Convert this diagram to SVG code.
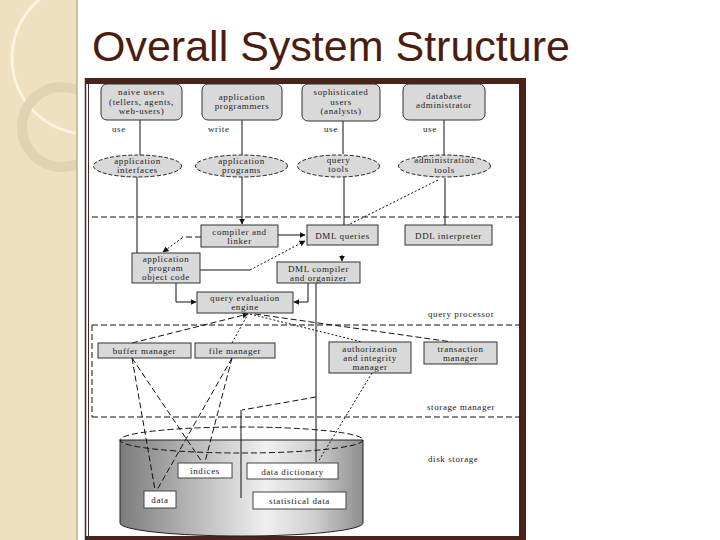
<svg xmlns="http://www.w3.org/2000/svg" width="720" height="540" viewBox="0 0 720 540">
<style>
.lbl{font-family:"Liberation Serif",serif;font-size:9px;letter-spacing:0.6px;fill:#222;text-anchor:middle}
.lbl-l{font-family:"Liberation Serif",serif;font-size:9px;letter-spacing:0.6px;fill:#222}
.box{fill:#d9d9d9;stroke:#333;stroke-width:1}
.wbox{fill:#fff;stroke:#444;stroke-width:1}
.ell{fill:#d9d9d9;stroke:#222;stroke-width:1;stroke-dasharray:4 2}
.c{fill:none;stroke:#111;stroke-width:1}
.d{fill:none;stroke:#111;stroke-width:1;stroke-dasharray:6 3}
.o{fill:none;stroke:#111;stroke-width:1;stroke-dasharray:2 2}
</style>
<defs>
<marker id="ah" viewBox="0 0 10 10" refX="9" refY="5" markerWidth="6" markerHeight="6" orient="auto-start-reverse">
<path d="M0,0 L10,5 L0,10 Z" fill="#111"/>
</marker>
<linearGradient id="cyl" x1="0" y1="0" x2="1" y2="0">
<stop offset="0" stop-color="#7c7c7c"/>
<stop offset="0.3" stop-color="#b8b8b8"/>
<stop offset="0.6" stop-color="#f0f0f0"/>
<stop offset="0.8" stop-color="#cfcfcf"/>
<stop offset="1" stop-color="#8e8e8e"/>
</linearGradient>
<clipPath id="strip"><rect x="0" y="0" width="77" height="540"/></clipPath>
</defs>

<!-- slide background -->
<rect x="0" y="0" width="720" height="540" fill="#fff"/>
<rect x="0" y="0" width="77" height="540" fill="#efe1bf"/>
<g clip-path="url(#strip)">
<circle cx="88" cy="58" r="76" fill="none" stroke="#fbf4e2" stroke-width="3"/>
<circle cx="62" cy="127" r="40" fill="none" stroke="#e0d3b3" stroke-width="10"/>
</g>
<line x1="77" y1="0" x2="77" y2="540" stroke="#bfae8a" stroke-width="1.5"/>
<text x="92" y="61" font-family="Liberation Sans, Arial, sans-serif" font-size="43" fill="#4b1d10">Overall System Structure</text>

<!-- picture frame -->
<rect x="85" y="78" width="441" height="6" fill="#4a2418"/>
<rect x="519" y="78" width="7" height="462" fill="#4a2418"/>
<rect x="85" y="536" width="441" height="4" fill="#4a2418"/>
<line x1="85.5" y1="78" x2="85.5" y2="540" stroke="#4a2418" stroke-width="1.5"/>
<line x1="88.5" y1="84" x2="88.5" y2="540" stroke="#333" stroke-width="1"/>

<!-- disk cylinder -->
<g id="disk">
<path d="M120,440 V523 A121.5,13 0 0 0 363,523 V440 Z" fill="url(#cyl)" stroke="#222" stroke-width="1"/>
<ellipse cx="241.5" cy="440" rx="121.5" ry="13" fill="#fff" class="d"/>
</g>

<!-- region boundaries and labels -->
<g id="regions">
<path class="d" d="M92,217 H520"/>
<path class="d" d="M92,325 H520"/>
<path class="d" d="M92,417 H520"/>
<path class="d" d="M92,325 V417"/>
<text class="lbl-l" x="428" y="317">query processor</text>
<text class="lbl-l" x="427" y="410">storage manager</text>
<text class="lbl-l" x="428" y="462">disk storage</text>
<text class="lbl-l" x="112" y="132">use</text>
<text class="lbl-l" x="208" y="132">write</text>
<text class="lbl-l" x="324" y="132">use</text>
<text class="lbl-l" x="423" y="132">use</text>
</g>

<!-- connectors -->
<g id="connectors">
<path class="c" d="M140,120 V155"/>
<path class="c" d="M242,120 V155"/>
<path class="c" d="M343,121 V154"/>
<path class="c" d="M444,120 V155"/>
<path class="c" d="M137,177 V253"/>
<path class="c" d="M242,177 V224" marker-end="url(#ah)"/>
<path class="c" d="M344,177 V225"/>
<path class="c" d="M445,178 V225"/>
<path class="o" d="M438,180 L348,225"/>
<path class="c" d="M278,235 H305" marker-end="url(#ah)"/>
<path class="c" d="M200,270 H250"/>
<path class="o" d="M250,270 L305,241" marker-end="url(#ah)"/>
<path class="d" d="M201,237 H182"/>
<path class="o" d="M182,238 L163,252" marker-end="url(#ah)"/>
<path class="c" d="M176,283 V302 H196" marker-end="url(#ah)"/>
<path class="c" d="M308,283 V302 H294" marker-end="url(#ah)"/>
<path class="c" d="M342,255 V261" marker-end="url(#ah)"/>
<path class="c" d="M316,283 V462"/>
<path class="d" d="M132,343 L248,314" marker-end="url(#ah)"/>
<path class="o" d="M232,343 L248,314"/>
<path class="o" d="M250,314 L362,342"/>
<path class="d" d="M255,314 L452,342"/>
<path class="d" d="M132,358 L155,490"/>
<path class="d" d="M132,358 L202,462"/>
<path class="d" d="M232,358 L157,490"/>
<path class="d" d="M232,358 L205,462"/>
<path class="o" d="M372,373 L318,462"/>
<path class="d" d="M316,397 L242,410"/>
<path class="c" d="M241,410 V498"/>
</g>

<!-- user boxes -->
<g id="naive-users">
<rect class="box" x="101" y="84" width="81" height="36" rx="6"/>
<text class="lbl" x="141.5" y="95">naive users</text>
<text class="lbl" x="141.5" y="104.5">(tellers, agents,</text>
<text class="lbl" x="141.5" y="114">web-users)</text>
</g>
<g id="application-programmers">
<rect class="box" x="202" y="84" width="80" height="36" rx="6"/>
<text class="lbl" x="242" y="100">application</text>
<text class="lbl" x="242" y="109">programmers</text>
</g>
<g id="sophisticated-users">
<rect class="box" x="302" y="84" width="78" height="37" rx="6"/>
<text class="lbl" x="341" y="95">sophisticated</text>
<text class="lbl" x="341" y="104.5">users</text>
<text class="lbl" x="341" y="114">(analysts)</text>
</g>
<g id="database-administrator">
<rect class="box" x="403" y="84" width="82" height="36" rx="6"/>
<text class="lbl" x="444" y="99">database</text>
<text class="lbl" x="444" y="108">administrator</text>
</g>

<!-- tool ellipses -->
<g id="application-interfaces">
<ellipse class="ell" cx="137.5" cy="166" rx="44" ry="11"/>
<text class="lbl" x="137.5" y="164">application</text>
<text class="lbl" x="137.5" y="173">interfaces</text>
</g>
<g id="application-programs">
<ellipse class="ell" cx="241.5" cy="166" rx="46" ry="11"/>
<text class="lbl" x="241.5" y="164">application</text>
<text class="lbl" x="241.5" y="173">programs</text>
</g>
<g id="query-tools">
<ellipse class="ell" cx="338.5" cy="166" rx="41" ry="11"/>
<text class="lbl" x="338.5" y="163">query</text>
<text class="lbl" x="338.5" y="172">tools</text>
</g>
<g id="administration-tools">
<ellipse class="ell" cx="444.5" cy="166" rx="46" ry="11"/>
<text class="lbl" x="444.5" y="163">administration</text>
<text class="lbl" x="444.5" y="173">tools</text>
</g>

<!-- query processor -->
<g id="compiler-linker">
<rect class="box" x="201" y="225" width="77" height="22"/>
<text class="lbl" x="239.5" y="235">compiler and</text>
<text class="lbl" x="239.5" y="244">linker</text>
</g>
<g id="dml-queries">
<rect class="box" x="307" y="225" width="71" height="20"/>
<text class="lbl" x="342.5" y="238.5">DML queries</text>
</g>
<g id="ddl-interpreter">
<rect class="box" x="405" y="225" width="87" height="20"/>
<text class="lbl" x="448.5" y="238.5">DDL interpreter</text>
</g>
<g id="object-code">
<rect class="box" x="132" y="253" width="68" height="30"/>
<text class="lbl" x="166" y="262">application</text>
<text class="lbl" x="166" y="271">program</text>
<text class="lbl" x="166" y="280">object code</text>
</g>
<g id="dml-compiler">
<rect class="box" x="277" y="262" width="83" height="21"/>
<text class="lbl" x="318.5" y="271.5">DML compiler</text>
<text class="lbl" x="318.5" y="280.5">and organizer</text>
</g>
<g id="query-evaluation-engine">
<rect class="box" x="197" y="292" width="96" height="21"/>
<text class="lbl" x="245" y="301">query evaluation</text>
<text class="lbl" x="245" y="310">engine</text>
</g>

<!-- storage manager -->
<g id="buffer-manager">
<rect class="box" x="98" y="343" width="93" height="15"/>
<text class="lbl" x="144.5" y="354">buffer manager</text>
</g>
<g id="file-manager">
<rect class="box" x="195" y="343" width="80" height="15"/>
<text class="lbl" x="235" y="354">file manager</text>
</g>
<g id="authorization-manager">
<rect class="box" x="329" y="342" width="82" height="31"/>
<text class="lbl" x="370" y="352">authorization</text>
<text class="lbl" x="370" y="361">and integrity</text>
<text class="lbl" x="370" y="370">manager</text>
</g>
<g id="transaction-manager">
<rect class="box" x="424" y="342" width="73" height="22"/>
<text class="lbl" x="460.5" y="352">transaction</text>
<text class="lbl" x="460.5" y="361">manager</text>
</g>

<!-- disk storage contents -->
<g id="indices">
<rect class="wbox" x="178" y="463" width="54" height="15"/>
<text class="lbl" x="205" y="474">indices</text>
</g>
<g id="data-dictionary">
<rect class="wbox" x="247" y="463" width="91" height="16"/>
<text class="lbl" x="292.5" y="474.5">data dictionary</text>
</g>
<g id="data">
<rect class="wbox" x="144" y="491" width="32" height="17"/>
<text class="lbl" x="160" y="503">data</text>
</g>
<g id="statistical-data">
<rect class="wbox" x="253" y="492" width="93" height="17"/>
<text class="lbl" x="299.5" y="504">statistical data</text>
</g>
</svg>
